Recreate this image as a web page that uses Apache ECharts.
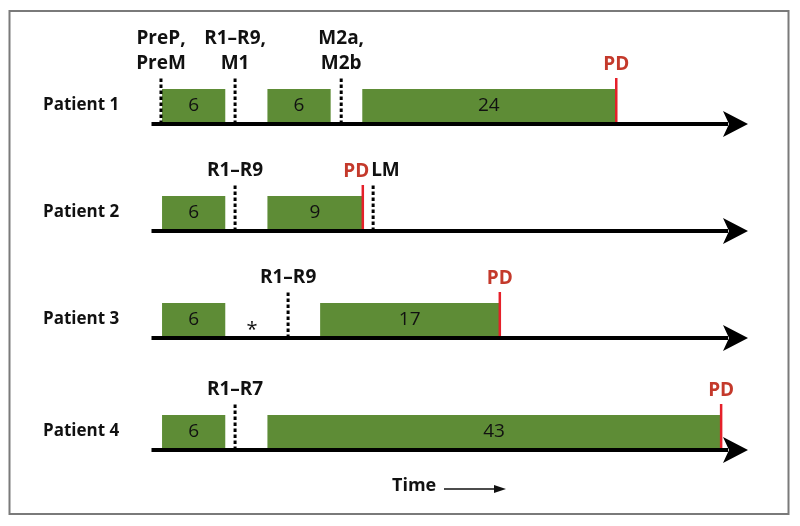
<!DOCTYPE html>
<html><head><meta charset="utf-8">
<script src="https://cdn.jsdelivr.net/npm/echarts@6/dist/echarts.min.js"></script>
<style>html,body{margin:0;padding:0;background:#fff}#c{width:800px;height:526px}</style>
</head><body><div id="c"></div>
<script>
// ---- data ----
const patients = ['Patient 1', 'Patient 2', 'Patient 3', 'Patient 4'];
const barStarts = [[1, 11, 20], [1, 11], [1, 16], [1, 11]];      // months
const barMonths = [[6, 6, 24], [6, 9], [6, 17], [6, 43]];         // durations (labels)
const markerPos = [[0.9, 7.93, 18], [7.93, 21.03], [12.96], [7.93]];
const markerLabels = [
  [['PreP,', 'PreM'], ['R1–R9,', 'M1'], ['M2a,', 'M2b']],
  [['R1–R9'], ['LM']],
  [['R1–R9']],
  [['R1–R7']]
];
const pdPos = [44.1, 20.05, 33.05, 54.05];
const starPos = [[], [], [9.54], []];
const pdLabel = 'PD';
const starLabel = '*';
const timeLabel = 'Time';

// ---- layout / style ----
const X_MAX = 56.6;
const baselines = [124, 231, 338, 450];
const BAR_H = 35;
const GREEN = '#5e8c36';
const RED_LINE = '#e5202a';
const RED_TEXT = '#c4392b';
const FONT = '"Open Sans", "Noto Sans", sans-serif';

const grids = [], xAxes = [], yAxes = [], series = [];

patients.forEach((name, p) => {
  const base = baselines[p];
  grids.push({ left: 151.5, right: 52, top: base - BAR_H, height: BAR_H });
  xAxes.push({ gridIndex: p, type: 'value', min: 0, max: X_MAX, show: false });
  yAxes.push({ gridIndex: p, type: 'value', min: 0, max: 1, show: false });

  // bars
  series.push({
    type: 'custom', xAxisIndex: p, yAxisIndex: p, z: 1, silent: true,
    data: barStarts[p].map((s, i) => [s, s + barMonths[p][i], barMonths[p][i]]),
    renderItem: (params, api) => {
      const a = api.coord([api.value(0), 1]);
      const b = api.coord([api.value(1), 0]);
      return { type: 'group', children: [
        { type: 'rect', shape: { x: a[0], y: a[1], width: b[0] - a[0], height: b[1] - a[1] }, style: { fill: GREEN } },
        { type: 'text', x: (a[0] + b[0]) / 2, y: b[1] - 18.5, style: { text: String(api.value(2)), align: 'center', verticalAlign: 'middle', font: '19px ' + FONT, fill: '#111' } }
      ]};
    }
  });

  // dotted markers
  const crowded = (m) => Math.abs(m - pdPos[p]) < 3;
  series.push({
    type: 'custom', xAxisIndex: p, yAxisIndex: p, z: 2, silent: true,
    data: markerPos[p].map((m, i) => [m, i]),
    renderItem: (params, api) => {
      const m = api.value(0);
      const c = api.coord([m, 0]);
      const lines = markerLabels[p][api.value(1)];
      const n = lines.length;
      const cr = crowded(m);
      const children = [
        { type: 'line', shape: { x1: c[0], y1: c[1], x2: c[0], y2: c[1] - 46 }, style: { stroke: '#000', lineWidth: 3, lineDash: [3.5, 2.5] } }
      ];
      lines.forEach((t, i) => {
        children.push({ type: 'text', x: cr ? c[0] - 2 : c[0], y: c[1] - 60 - (n - 1 - i) * 25,
          style: { text: t, align: cr ? 'left' : 'center', verticalAlign: 'middle', font: 'bold 19px ' + FONT, fill: '#111' } });
      });
      return { type: 'group', children };
    }
  });

  // PD line
  const pdCrowded = markerPos[p].some(m => Math.abs(m - pdPos[p]) < 3);
  series.push({
    type: 'custom', xAxisIndex: p, yAxisIndex: p, z: 2, silent: true,
    data: [[pdPos[p]]],
    renderItem: (params, api) => {
      const c = api.coord([api.value(0), 0]);
      return { type: 'group', children: [
        { type: 'line', shape: { x1: c[0], y1: c[1], x2: c[0], y2: c[1] - 46 }, style: { stroke: RED_LINE, lineWidth: 2.5 } },
        { type: 'text', x: pdCrowded ? c[0] + 6.5 : c[0], y: c[1] - 59,
          style: { text: pdLabel, align: pdCrowded ? 'right' : 'center', verticalAlign: 'middle', font: 'bold 19px ' + FONT, fill: RED_TEXT } }
      ]};
    }
  });

  // star
  if (starPos[p].length) {
    series.push({
      type: 'custom', xAxisIndex: p, yAxisIndex: p, z: 2, silent: true,
      data: starPos[p].map(s => [s]),
      renderItem: (params, api) => {
        const c = api.coord([api.value(0), 0]);
        return { type: 'text', x: c[0], y: c[1] - 8, style: { text: starLabel, align: 'center', verticalAlign: 'middle', font: '20px ' + FONT, fill: '#111' } };
      }
    });
  }

  // baseline + arrow + patient label
  series.push({
    type: 'custom', xAxisIndex: p, yAxisIndex: p, z: 3, silent: true,
    data: [[0, X_MAX]],
    renderItem: (params, api) => {
      const a = api.coord([api.value(0), 0]);
      const b = api.coord([api.value(1), 0]);
      const y = a[1];
      return { type: 'group', children: [
        { type: 'line', shape: { x1: a[0], y1: y, x2: b[0] - 20, y2: y }, style: { stroke: '#000', lineWidth: 4 } },
        { type: 'polygon', shape: { points: [[b[0], y], [b[0] - 25, y - 13], [b[0] - 19, y], [b[0] - 25, y + 13]] }, style: { fill: '#000' } },
        { type: 'text', x: 43, y: y - 18.5, style: { text: name, align: 'left', verticalAlign: 'middle', font: 'bold 17px ' + FONT, fill: '#111' } }
      ]};
    }
  });
});

const chart = echarts.init(document.getElementById('c'), null, { renderer: 'canvas' });
chart.setOption({
  animation: false,
  backgroundColor: '#fff',
  grid: grids, xAxis: xAxes, yAxis: yAxes, series,
  graphic: [
    { type: 'rect', shape: { x: 9.5, y: 11, width: 779, height: 503 }, style: { fill: 'none', stroke: '#7a7a7a', lineWidth: 2 }, silent: true },
    { type: 'text', x: 392, y: 486, style: { text: timeLabel, align: 'left', verticalAlign: 'middle', font: 'bold 18px ' + FONT, fill: '#111' } },
    { type: 'line', shape: { x1: 444, y1: 489, x2: 497, y2: 489 }, style: { stroke: '#111', lineWidth: 1.5 } },
    { type: 'polygon', shape: { points: [[506, 489], [494, 485], [494, 493]] }, style: { fill: '#111' } }
  ]
});
</script>
</body></html>
